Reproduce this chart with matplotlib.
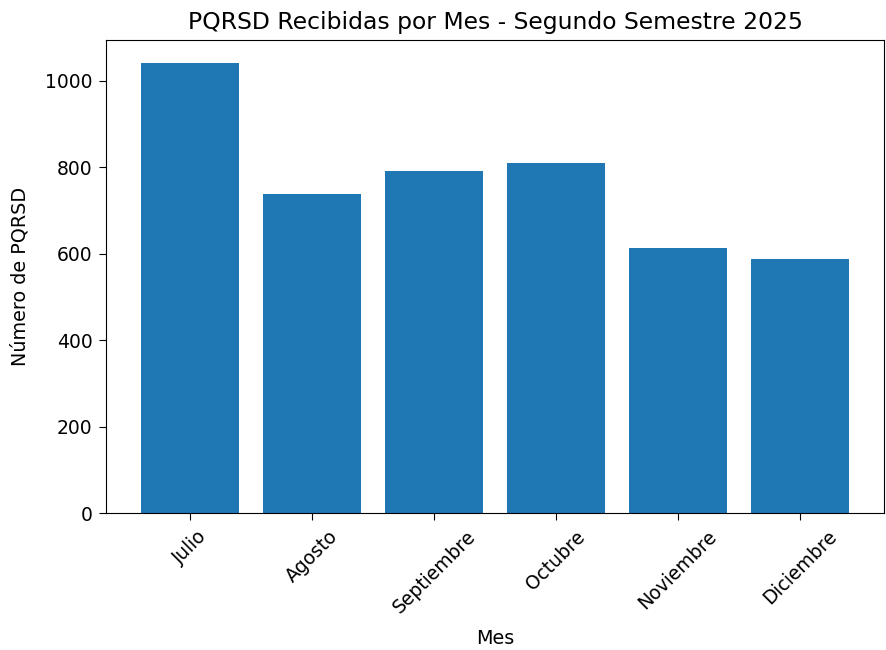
import matplotlib
matplotlib.use('Agg')
from matplotlib import pyplot as plt

meses = ['Julio', 'Agosto', 'Septiembre', 'Octubre', 'Noviembre', 'Diciembre']
pqrsd = [1041, 738, 791, 810, 613, 587]

fig = plt.figure(figsize=(8.86, 6.5), dpi=100)
ax = fig.add_subplot(111)
ax.bar(meses, pqrsd, color='#1f77b4')
ax.set_title('PQRSD Recibidas por Mes - Segundo Semestre 2025', fontsize=16.9, pad=8)
ax.set_xlabel('Mes', fontsize=13.8, labelpad=8.6)
ax.set_ylabel('Número de PQRSD', fontsize=13.8, labelpad=11)
ax.tick_params(axis='both', labelsize=13.5, length=4.9, pad=4.9)
plt.setp(ax.get_xticklabels(), rotation=45)
fig.subplots_adjust(left=0.1196, right=0.9977, top=0.9377, bottom=0.2103)

fig.savefig('out.png', dpi=100)
